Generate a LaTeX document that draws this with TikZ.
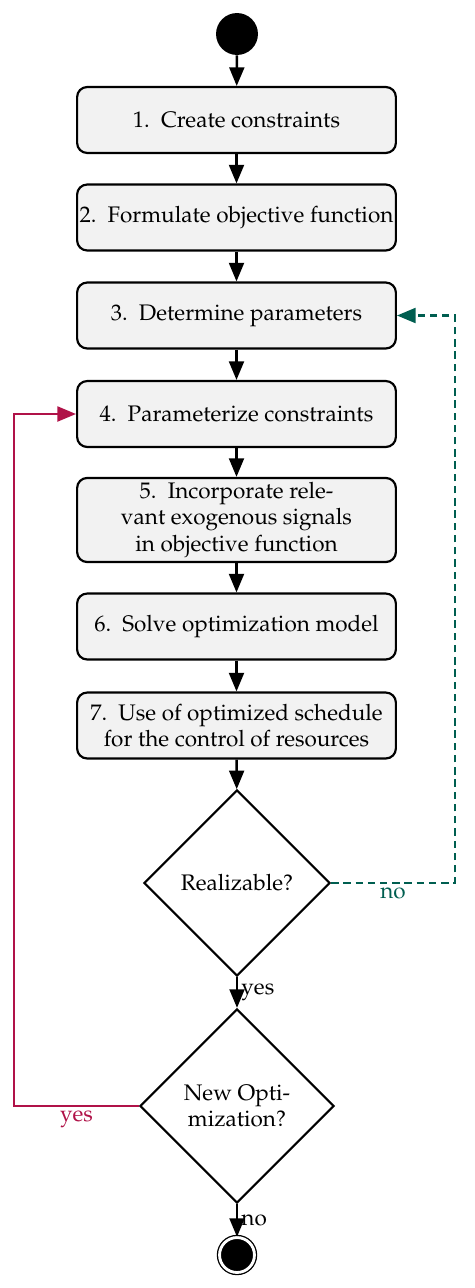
\documentclass[tikz,border=0pt]{standalone}
\usepackage[T1]{fontenc}
\usepackage{mathpazo}
\usetikzlibrary{shapes.geometric,arrows.meta}

\definecolor{nogreen}{RGB}{0,94,80}
\definecolor{yesred}{RGB}{176,18,72}

\tikzset{
	procbox/.style={draw, line width=1pt, fill=black!5, rounded corners=4.6pt, minimum width=146pt, minimum height=30.2pt, align=center, inner xsep=1pt, inner ysep=2pt},
	decision/.style={draw, diamond, line width=1pt, aspect=1, inner sep=0pt, align=center},
	flow/.style={line width=1.1pt, -{Triangle[length=8.5pt,width=6.8pt]}},
	lbl/.style={inner sep=1.5pt}
}

\begin{document}
\begin{tikzpicture}[x=0.458pt,y=-0.458pt,font=\fontsize{10.3pt}{12pt}\selectfont]
	\useasboundingbox (0,0) rectangle (474,1288);
	%========
	%Steps
	%========
	\node[circle,fill,minimum size=19.2pt,inner sep=0pt] (start) at (237,34) {};	%Start
	
	\node[procbox] (create) at (236.5,120) {1.\enspace Create constraints};
	\node[procbox] (objfun) at (236.5,217.5) {2.\enspace Formulate objective function};
	\node[procbox] (params) at (236.5,315.5) {3.\enspace Determine parameters};
	\node[procbox] (paramcon) at (236.5,414) {4.\enspace Parameterize constraints};
	\node[procbox,minimum height=38.5pt] (exo) at (236.5,520) {5.\enspace Incorporate rele-\\vant exogenous signals\\in objective function};
	\node[procbox] (solve) at (236.5,626.5) {6.\enspace Solve optimization model};
	\node[procbox] (usesched) at (236.5,725.5) {7.\enspace Use of optimized schedule\\for the control of resources};
	
	\node[decision,minimum size=85.2pt] (real) at (237,883) {Realizable?};	%Decisions
	\node[decision,minimum size=88.9pt] (newopt) at (237,1106) {New Opti-\\mization?};
	
	\node[circle,fill,draw,double=white,double distance=1.3pt,line width=0.6pt,minimum size=16pt,inner sep=0pt] (stop) at (237,1255) {};	%End
	
	%========
	%Flow
	%========
	\draw[flow] (start) -- (create);
	\draw[flow] (create) -- (objfun);
	\draw[flow] (objfun) -- (params);
	\draw[flow] (params) -- (paramcon);
	\draw[flow] (paramcon) -- (exo);
	\draw[flow] (exo) -- (solve);
	\draw[flow] (solve) -- (usesched);
	\draw[flow] (usesched) -- (real);
	\draw[flow] (real) -- node[lbl,right] {yes} (newopt);
	\draw[flow] (newopt) -- node[lbl,right] {no} (stop);
	
	\coordinate (noturn) at (455,315.5);	%Loop back: not realizable
	\draw[flow,nogreen,dash pattern=on 3.4pt off 2.2pt] (real.east) -| node[lbl,pos=0.25,below,text=nogreen] {no} (noturn) -- (params.east);
	
	\coordinate (yesturn) at (14,414);	%Loop back: new optimization
	\draw[flow,yesred] (newopt.west) -| node[lbl,pos=0.25,below,text=yesred] {yes} (yesturn) -- (paramcon.west);
\end{tikzpicture}
\end{document}
